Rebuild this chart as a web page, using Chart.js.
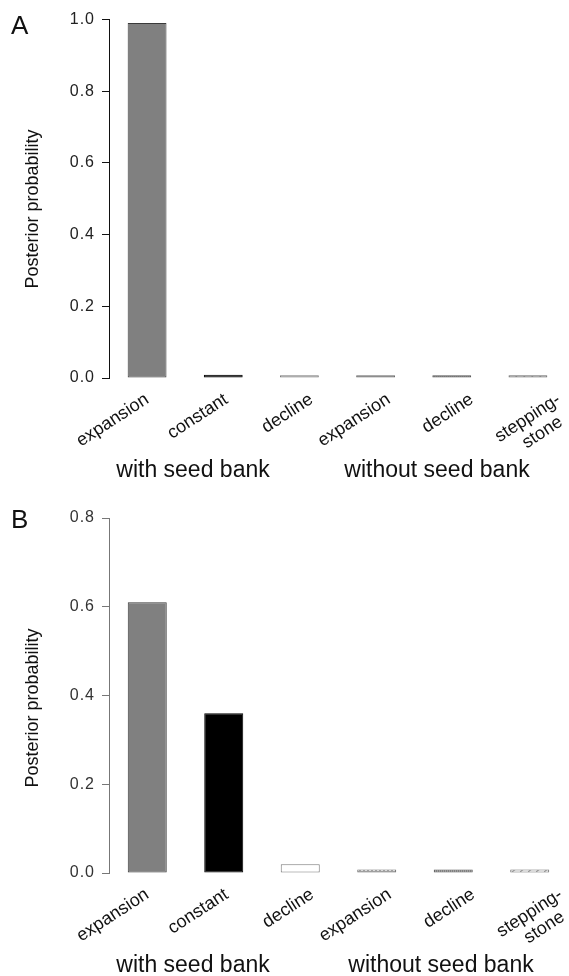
<!DOCTYPE html>
<html>
<head>
<meta charset="utf-8">
<script src="https://cdn.jsdelivr.net/npm/chart.js@4.4.0/dist/chart.umd.min.js"></script>
<style>
  body { margin: 0; background: #fff; }
  canvas { position: absolute; left: 0; }
  #chartA { top: 0; }
  #chartB { top: 488px; }
</style>
</head>
<body>
<canvas id="chartA" width="569" height="488"></canvas>
<canvas id="chartB" width="569" height="488"></canvas>
<script>
// model names along the x axis
const modelLabels = ['expansion', 'constant', 'decline', 'expansion', 'decline', ['stepping-', 'stone']];
const groupLabels = ['with seed bank', 'without seed bank'];

// posterior probabilities
const probA = [0.99, 0.009, 0.008, 0.008, 0.008, 0.008];
const probB = [0.61, 0.36, 0.02, 0.008, 0.008, 0.008];

const ticksA = [0, 0.2, 0.4, 0.6, 0.8, 1.0];
const ticksB = [0, 0.2, 0.4, 0.6, 0.8];

const FONT = '"Liberation Sans", Arial, Helvetica, sans-serif';
// small horizontal nudges of the slanted labels (the original was laid out by hand)
const labelNudge = [0, 3, 12, 13, 20, 31];

function makePattern(kind) {
    const c = document.createElement('canvas');
    c.width = 4; c.height = 4;
    const g = c.getContext('2d');
    if (kind === 'dots') {
        g.fillStyle = '#8a8a8a'; g.fillRect(0, 0, 4, 4);
        g.fillStyle = '#ffffff'; g.fillRect(1, 1, 2, 2);
    } else if (kind === 'hatch') {
        g.fillStyle = '#9a9a9a'; g.fillRect(0, 0, 4, 4);
        g.fillStyle = '#555'; g.fillRect(0, 0, 1, 4); g.fillRect(2, 0, 1, 4);
    } else {
        c.width = 8;
        g.fillStyle = '#ffffff'; g.fillRect(0, 0, 8, 4);
        g.strokeStyle = '#777'; g.lineWidth = 1.2;
        g.beginPath(); g.moveTo(0, 4); g.lineTo(5, 0); g.stroke();
    }
    return g.createPattern(c, 'repeat');
}

function fills(declineFill) {
    return ['#808080', '#000000', declineFill, makePattern('dots'), makePattern('hatch'), makePattern('dash')];
}
const borders = ['#3a3a3a', '#000000', '#7a7a7a', '#6a6a6a', '#555555', '#6a6a6a'];

// slightly wider spacing for the y tick numbers only
const tickSpacing = {
    id: 'tickSpacing',
    beforeDraw(chart) { chart.ctx.letterSpacing = '1px'; },
    beforeDatasetsDraw(chart) { chart.ctx.letterSpacing = '0px'; }
};

function panelText(letter, titleY, groupY, groupX) {
    return {
        id: 'panelText' + letter,
        afterDraw(chart) {
            const ctx = chart.ctx;
            const xs = chart.scales.x;
            const bottom = chart.chartArea.bottom;
            ctx.save();
            ctx.letterSpacing = '0px';
            ctx.fillStyle = '#111';

            // slanted category labels
            const ang = 33 * Math.PI / 180;
            ctx.font = '18px ' + FONT;
            modelLabels.forEach((lab, i) => {
                const lines = Array.isArray(lab) ? lab : [lab];
                const widths = lines.map(l => ctx.measureText(l).width);
                const maxW = Math.max(...widths);
                ctx.save();
                ctx.translate(xs.getPixelForValue(i) + labelNudge[i], bottom + 20);
                ctx.rotate(-ang);
                ctx.textAlign = 'right';
                ctx.textBaseline = 'middle';
                lines.forEach((l, k) => {
                    ctx.fillText(l, -(maxW - widths[k]) / 2 * 0.7, k * 20);
                });
                ctx.restore();
            });

            ctx.font = '26px ' + FONT;
            ctx.textAlign = 'left';
            ctx.textBaseline = 'alphabetic';
            ctx.fillText(letter, 11, letter === 'A' ? 34 : 40);

            ctx.font = '23px ' + FONT;
            ctx.textAlign = 'center';
            ctx.fillText(groupLabels[0], groupX[0], groupY);
            ctx.fillText(groupLabels[1], groupX[1], groupY);

            ctx.font = '18px ' + FONT;
            ctx.textBaseline = 'middle';
            ctx.translate(33, titleY);
            ctx.rotate(-Math.PI / 2);
            ctx.fillText('Posterior probability', 0, 0);
            ctx.restore();
        }
    };
}

function makeChart(id, values, ticks, opts) {
    const ctx = document.getElementById(id);
    return new Chart(ctx, {
        type: 'bar',
        data: {
            labels: modelLabels,
            datasets: [{
                data: values,
                backgroundColor: fills(opts.declineFill),
                borderColor: borders,
                borderWidth: 1,
                borderSkipped: false,
                barPercentage: 0.51,
                categoryPercentage: 1
            }]
        },
        options: {
            responsive: false,
            animation: false,
            layout: { padding: { top: opts.top, right: opts.right, left: 0, bottom: 0 } },
            plugins: { legend: { display: false }, tooltip: { enabled: false } },
            scales: {
                x: {
                    offset: true,
                    grid: { display: false },
                    border: { display: false },
                    ticks: { display: false },
                    afterFit: s => { s.height = opts.xh; }
                },
                y: {
                    min: 0,
                    max: ticks[ticks.length - 1],
                    afterBuildTicks: s => { s.ticks = ticks.map(v => ({ value: v })); },
                    grid: { drawOnChartArea: false, drawTicks: true, tickLength: 7, color: opts.axisColor },
                    border: { display: true, color: opts.axisColor, width: 1 },
                    ticks: {
                        padding: 7,
                        color: opts.tickColor,
                        font: { family: FONT, size: 16 },
                        callback: v => Number(v).toFixed(1)
                    },
                    afterFit: s => { s.width = 109; }
                }
            }
        },
        plugins: [tickSpacing, panelText(opts.letter, opts.titleY, opts.groupY, opts.groupX)]
    });
}

makeChart('chartA', probA, ticksA, {
    letter: 'A', top: 19.5, right: 3, xh: 110,
    declineFill: '#e6e6e6', axisColor: '#111', tickColor: '#222',
    titleY: 209, groupY: 477, groupX: [193, 437]
});
makeChart('chartB', probB, ticksB, {
    letter: 'B', top: 30, right: 1, xh: 103,
    declineFill: '#ffffff', axisColor: '#777', tickColor: '#333',
    titleY: 220, groupY: 484, groupX: [193, 441]
});
</script>
</body>
</html>
